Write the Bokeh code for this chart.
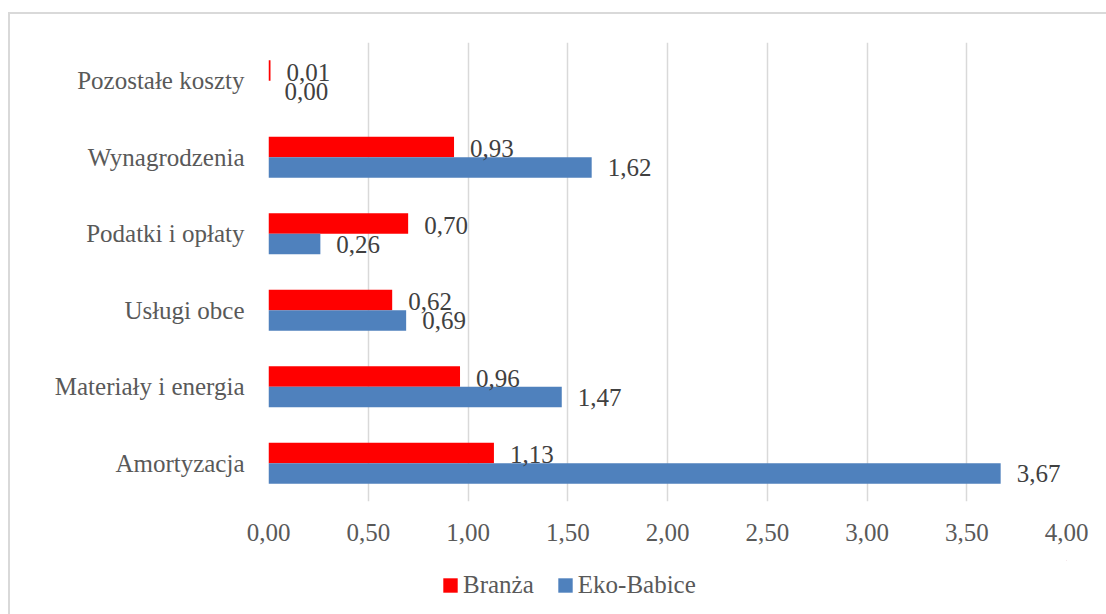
from bokeh.plotting import figure
from bokeh.layouts import column
from bokeh.models import (ColumnDataSource, FactorRange, Range1d, FixedTicker, LabelSet,
                          Legend, LegendItem)
from bokeh.transform import dodge
from bokeh.embed import file_html
from bokeh.resources import INLINE

categories = ["Amortyzacja", "Materiały i energia", "Usługi obce", "Podatki i opłaty",
              "Wynagrodzenia", "Pozostałe koszty"]
branza = [1.13, 0.96, 0.62, 0.70, 0.93, 0.01]
eko_babice = [3.67, 1.47, 0.69, 0.26, 1.62, 0.00]
series_names = ["Branża", "Eko-Babice"]
x_ticks = [0.0, 0.5, 1.0, 1.5, 2.0, 2.5, 3.0, 3.5, 4.0]

def fmt(v):
    return f"{v:.2f}".replace(".", ",")

FONT = "Liberation Serif"
RED = "#FF0000"
BLUE = "#4F81BD"

src = ColumnDataSource(dict(
    cat=categories,
    branza=branza,
    eko=eko_babice,
    branza_lbl=[fmt(v) for v in branza],
    eko_lbl=[fmt(v) for v in eko_babice],
))

p = figure(width=1096, height=546, y_range=FactorRange(*categories, range_padding=0),
           x_range=Range1d(0, 4), output_backend="svg", toolbar_location=None,
           min_border_left=258, min_border_right=40, min_border_top=28, min_border_bottom=59)

off = 0.134
h = 0.268
r1 = p.hbar(y=dodge("cat", off, range=p.y_range), right="branza", left=0, height=h,
            source=src, color=RED, line_color=None)
r2 = p.hbar(y=dodge("cat", -off, range=p.y_range), right="eko", left=0, height=h,
            source=src, color=BLUE, line_color=None)

lab1 = LabelSet(x="branza", y=dodge("cat", off, range=p.y_range), text="branza_lbl", source=src,
                x_offset=16, y_offset=-2, text_baseline="middle", text_font=FONT,
                text_font_size="25px", text_color="#404040")
lab2 = LabelSet(x="eko", y=dodge("cat", -off, range=p.y_range), text="eko_lbl", source=src,
                x_offset=16, y_offset=0, text_baseline="middle", text_font=FONT,
                text_font_size="25px", text_color="#404040")
p.add_layout(lab1)
p.add_layout(lab2)

# axes
p.xaxis.ticker = FixedTicker(ticks=x_ticks)
p.xaxis.major_label_overrides = {t: fmt(t) for t in x_ticks}
for ax in (p.xaxis, p.yaxis):
    ax.axis_line_color = None
    ax.major_tick_line_color = None
    ax.minor_tick_line_color = None
    ax.major_label_text_font = FONT
    ax.major_label_text_font_size = "25px"
    ax.major_label_text_color = "#595959"
p.xaxis.major_label_standoff = 16
p.yaxis.major_label_standoff = 18

p.xgrid.grid_line_color = "#d9d9d9"
p.xgrid.grid_line_width = 1.5
p.ygrid.grid_line_color = None
p.outline_line_color = None

# legend strip (frame aligned with the main plot's frame)
pl = figure(width=1096, height=54, x_range=Range1d(0, 1), y_range=Range1d(0, 1),
            output_backend="svg", toolbar_location=None,
            min_border_left=0, min_border_right=0, min_border_top=0, min_border_bottom=0)
pl.axis.visible = False
pl.grid.visible = False
pl.outline_line_color = None
lr1 = pl.hbar(y=[5], right=[6], left=5, height=0.5, color=RED, line_color=None)
lr2 = pl.hbar(y=[5], right=[6], left=5, height=0.5, color=BLUE, line_color=None)

legend = Legend(items=[LegendItem(label=series_names[0], renderers=[lr1]),
                       LegendItem(label=series_names[1], renderers=[lr2])],
                location=(173, 15), orientation="horizontal",
                label_text_font=FONT, label_text_font_size="25px", label_text_color="#595959",
                glyph_width=18, glyph_height=18, label_standoff=4, spacing=22,
                padding=0, margin=0, border_line_color=None, background_fill_alpha=0)
pl.add_layout(legend, "center")

layout = column(p, pl, spacing=0)
layout.margin = (12, 0, 0, 8)
layout.styles = {"border-left": "2px solid #d9d9d9", "border-top": "2px solid #d9d9d9"}

open("out.html", "w").write(file_html(layout, INLINE))
